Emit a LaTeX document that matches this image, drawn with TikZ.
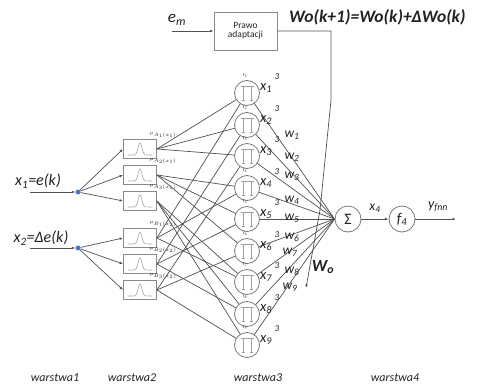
\documentclass[tikz,border=0pt]{standalone}
\usepackage{fontspec}
\setmainfont{Carlito}
\usetikzlibrary{arrows.meta}
\definecolor{ln}{HTML}{505050}
\definecolor{circ}{HTML}{7A7A7A}
\definecolor{pic}{HTML}{A0A0A0}
\definecolor{boxc}{HTML}{8A8A8A}
\definecolor{gcol}{HTML}{A8A8A8}
\definecolor{txt}{HTML}{222222}
\definecolor{dotc}{HTML}{4A76C6}
\newcommand\fsz[1]{\fontsize{#1}{#1}\selectfont}
\tikzset{
  conn/.style={draw=ln, line width=0.7pt},
  tip/.style={-{Latex[length=3.5pt,width=2.6pt]}},
  prod/.style={circle, draw=circ, line width=0.8pt, fill=white, minimum size=25pt, inner sep=0pt},
  unit/.style={circle, draw=circ, line width=0.8pt, fill=white, minimum size=26pt, inner sep=0pt, text=txt},
  mfbox/.style={draw=boxc, line width=0.8pt, fill=white, minimum width=33pt, minimum height=19pt, inner sep=0pt},
  lab/.style={text=txt, inner sep=0pt, font=\fsz{14.5}\itshape},
  wlab/.style={text=txt, inner sep=0pt, font=\fsz{13.5}\itshape},
  sup/.style={text=txt, inner sep=0pt, font=\fsz{9}\itshape},
  tiny/.style={text=txt, inner sep=0pt, font=\fsz{5.5}\itshape},
  layer/.style={text=txt, inner sep=0pt, font=\fsz{12}\itshape}
}
\begin{document}
\begin{tikzpicture}[x=1pt,y=-1pt]
\useasboundingbox (0,0) rectangle (477,388);

% adaptation law block and the weight update formula
\node[draw=boxc, line width=0.8pt, minimum width=63pt, minimum height=38pt, align=center,
      inner sep=0pt, text=txt, font=\fsz{9.5}] (law) at (245.5,31) {Prawo\\[-1pt]adaptacji};
\node[text=txt, inner sep=0pt, font=\fsz{17}\itshape] (em) at (177,20) {e\textsubscript{m}};
\coordinate (emin) at (172,31);
\draw[conn,tip] (emin) -- (law.west);
\node[text=txt, inner sep=0pt, anchor=west, font=\fsz{17.5}\bfseries\itshape] (upd) at (289,17)
  {Wo(k+1)=Wo(k)+ΔWo(k)};

% inputs
\node[lab, font=\fsz{16}\itshape] (in1) at (38,181) {x\textsubscript{1}=e(k)};
\node[lab, font=\fsz{16}\itshape] (in2) at (41,238) {x\textsubscript{2}=Δe(k)};
\coordinate (s1) at (30,192);
\coordinate (s2) at (30,248);
\node[circle, fill=dotc, minimum size=5pt, inner sep=0pt] (d1) at (78,192) {};
\node[circle, fill=dotc, minimum size=5pt, inner sep=0pt] (d2) at (78,248) {};
\draw[conn,tip] (s1) -- (d1.west);
\draw[conn,tip] (s2) -- (d2.west);

% membership function blocks (layer 2)
\foreach \i/\yy in {1/149,2/175,3/201,4/238,5/264,6/290}{
  \node[mfbox] (m\i) at (140,\yy) {};
  \begin{scope}[shift={(m\i.center)}]
    \draw[gcol, line width=0.6pt] (-12,6) -- (-6,6)
      plot[domain=-6:6, samples=31, smooth] (\x, {6-12*exp(0-(\x)*(\x)/7)}) -- (12,6);
  \end{scope}
}
\foreach \i/\txtm in {1/{A_1}(x_1),2/{A_2}(x_1),3/{A_3}(x_1),4/{B_1}(x_2),5/{B_2}(x_2),6/{B_3}(x_2)}{
  \node[tiny, anchor=south] at ([xshift=6pt,yshift=1pt]m\i.north east) {$\scriptstyle\mu_{\txtm}$};
}
\foreach \i in {1,2,3}{\draw[conn,tip] (d1) -- (m\i.west);}
\foreach \i in {4,5,6}{\draw[conn,tip] (d2) -- (m\i.west);}

% rule nodes (layer 3)
\foreach \k/\yy in {1/93,2/125,3/156,4/188,5/219,6/251,7/282,8/314,9/345}{
  \coordinate (pc\k) at (247,\yy);
}
\foreach \a/\b in {1/1,1/2,1/3,2/4,2/5,2/6,3/7,3/8,3/9,4/1,4/4,4/7,5/2,5/5,5/8,6/3,6/6,6/9}{
  \draw[conn] (m\a.east) -- (pc\b);
}

% sum and output nodes (layer 4)
\node[unit, font=\fsz{16}] (sum) at (348,219) {Σ};
\node[unit, font=\fsz{15}\itshape] (f4) at (402,219) {f\textsubscript{4}};
\foreach \k in {1,...,9}{\draw[conn] (pc\k) -- (sum.west);}

\foreach \k/\yy in {1/93,2/125,3/156,4/188,5/219,6/251,7/282,8/314,9/345}{
  \node[prod] (p\k) at (pc\k) {};
  % product sign drawn inside the rule node
  \begin{scope}[shift={(p\k.center)}]
    \draw[pic, line width=0.8pt] (-6.5,-6.5) -- (6.5,-6.5)
      (-4,-6.5) -- (-4,7.5) (4,-6.5) -- (4,7.5)
      (-5.5,7.5) -- (-2.5,7.5) (2.5,7.5) -- (5.5,7.5);
  \end{scope}
  \node[tiny] (r\k) at (245,\yy-17) {r\textsubscript{\k}};
  \node[lab] (x\k) at (266,\yy-5) {x\textsubscript{\k}};
  \node[sup] (e\k) at (277,\yy-16) {3};
}

% weights
\foreach \k/\xx/\yy in {1/292/135,2/292/157,3/292/176,4/292/200,5/292/218,6/292/237,7/290/252,8/292/271,9/290/287}{
  \node[wlab] (w\k) at (\xx,\yy) {w\textsubscript{\k}};
}

% weight update feedback
\coordinate (fb1) at (331,31);
\coordinate (fb2) at (331,100);
\coordinate (fb3) at (320,210);
\coordinate (fbend) at (306,288);
\draw[conn,tip] (law.east) -- (fb1) -- (fb2) -- (fb3) -- (fbend);
\node[text=txt, inner sep=0pt, font=\fsz{17}\bfseries\itshape] (wo) at (323,267) {W\textsubscript{o}};

% output path
\draw[conn,tip] (sum) -- (f4);
\node[wlab] (x4o) at (375,208) {x\textsubscript{4}};
\coordinate (yout) at (456,219);
\draw[conn,tip] (f4) -- (yout);
\node[wlab, font=\fsz{14}\itshape] (yfnn) at (438,207) {y\textsubscript{fnn}};

% layer captions
\node[layer] (l1) at (55,378) {warstwa1};
\node[layer] (l2) at (132,378) {warstwa2};
\node[layer] (l3) at (258,378) {warstwa3};
\node[layer] (l4) at (395,378) {warstwa4};
\end{tikzpicture}
\end{document}
